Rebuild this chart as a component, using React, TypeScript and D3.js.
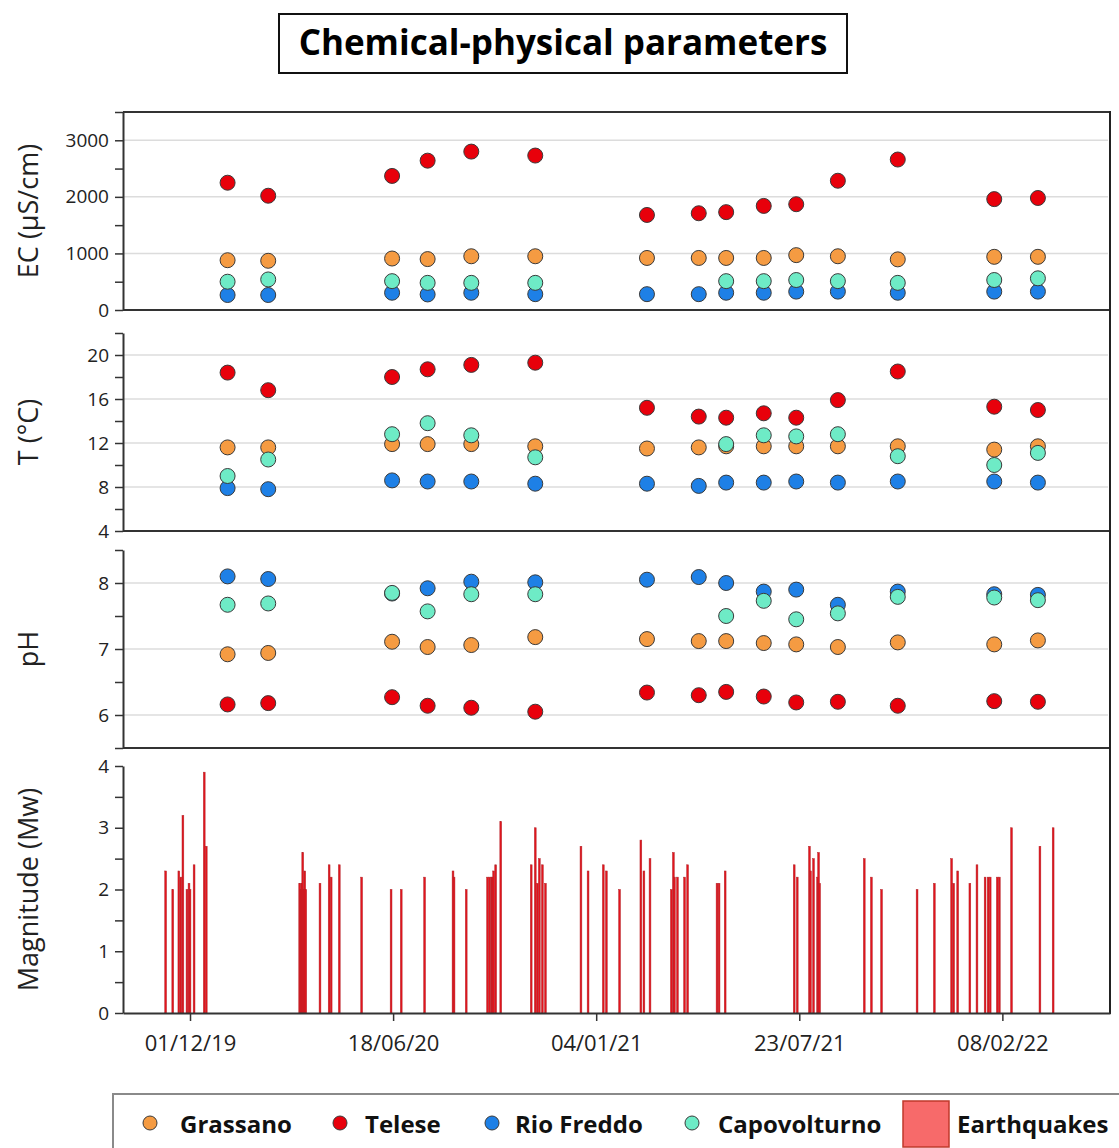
import React, { useEffect, useRef } from "react";
import * as d3 from "d3";

// ---------- DATA ----------
const sampleDates = [
  "2020-01-07", "2020-02-16", "2020-06-17", "2020-07-22", "2020-09-03", "2020-11-05",
  "2021-02-23", "2021-04-15", "2021-05-12", "2021-06-18", "2021-07-20", "2021-08-30",
  "2021-10-28", "2022-01-31", "2022-03-15",
];

const seriesNames = ["Grassano", "Telese", "Rio Freddo", "Capovolturno"];

// EC (µS/cm)
const ecGrassano = [880, 870, 910, 900, 950, 950, 920, 920, 920, 920, 970, 950, 895, 940, 940];
const ecTelese = [2250, 2020, 2370, 2640, 2800, 2730, 1680, 1710, 1730, 1840, 1870, 2285, 2660, 1960, 1980];
const ecRioFreddo = [265, 265, 305, 275, 305, 280, 280, 280, 305, 305, 325, 325, 305, 325, 325];
const ecCapovolturno = [500, 540, 510, 480, 480, 480, null, null, 510, 510, 530, 510, 480, 530, 560];

// T (°C)
const tGrassano = [11.6, 11.6, 11.9, 11.9, 11.9, 11.7, 11.5, 11.6, 11.7, 11.7, 11.7, 11.7, 11.7, 11.4, 11.7];
const tTelese = [18.4, 16.8, 18.0, 18.7, 19.1, 19.3, 15.2, 14.4, 14.3, 14.7, 14.3, 15.9, 18.5, 15.3, 15.0];
const tRioFreddo = [7.9, 7.8, 8.6, 8.5, 8.5, 8.3, 8.3, 8.1, 8.4, 8.4, 8.5, 8.4, 8.5, 8.5, 8.4];
const tCapovolturno = [9.0, 10.5, 12.8, 13.8, 12.7, 10.7, null, null, 11.9, 12.7, 12.6, 12.8, 10.8, 10.0, 11.1];

// pH
const phGrassano = [6.92, 6.94, 7.11, 7.03, 7.06, 7.18, 7.15, 7.12, 7.12, 7.09, 7.07, 7.03, 7.1, 7.07, 7.13];
const phTelese = [6.16, 6.18, 6.27, 6.14, 6.11, 6.05, 6.34, 6.3, 6.35, 6.28, 6.19, 6.2, 6.14, 6.21, 6.2];
const phRioFreddo = [8.1, 8.06, 7.84, 7.92, 8.02, 8.01, 8.05, 8.09, 8.0, 7.87, 7.9, 7.67, 7.87, 7.83, 7.82];
const phCapovolturno = [7.67, 7.69, 7.85, 7.57, 7.83, 7.83, null, null, 7.5, 7.73, 7.45, 7.54, 7.79, 7.78, 7.74];

// Earthquakes
const eqDates = [
  "2019-11-07", "2019-11-14", "2019-11-20", "2019-11-22", "2019-11-24", "2019-11-28", "2019-11-30",
  "2019-12-01", "2019-12-05", "2019-12-15", "2019-12-17",
  "2020-03-18", "2020-03-19", "2020-03-20", "2020-03-21", "2020-03-22", "2020-03-23", "2020-03-24",
  "2020-04-07", "2020-04-16", "2020-04-18", "2020-04-26", "2020-05-18", "2020-06-16", "2020-06-26",
  "2020-07-19", "2020-08-16", "2020-08-17", "2020-08-29",
  "2020-09-19", "2020-09-21", "2020-09-23", "2020-09-24", "2020-09-25", "2020-09-27", "2020-10-02",
  "2020-11-01", "2020-11-05", "2020-11-07", "2020-11-09", "2020-11-12", "2020-11-15",
  "2020-12-20", "2020-12-27", "2021-01-11", "2021-01-14", "2021-01-27",
  "2021-02-17", "2021-02-20", "2021-02-26", "2021-03-19", "2021-03-21", "2021-03-22", "2021-03-25",
  "2021-04-01", "2021-04-04", "2021-05-03", "2021-05-05", "2021-05-11",
  "2021-07-18", "2021-07-21", "2021-08-02", "2021-08-03", "2021-08-06", "2021-08-10", "2021-08-11", "2021-08-12",
  "2021-09-25", "2021-10-02", "2021-10-12", "2021-11-16",
  "2021-12-03", "2021-12-20", "2021-12-22", "2021-12-26",
  "2022-01-07", "2022-01-14", "2022-01-22", "2022-01-25", "2022-01-27", "2022-02-03", "2022-02-05",
  "2022-02-17", "2022-03-17", "2022-03-30",
];
const eqMagnitudes = [
  2.3, 2.0, 2.3, 2.2, 3.2, 2.0, 2.1,
  2.0, 2.4, 3.9, 2.7,
  2.1, 2.0, 2.1, 2.6, 2.0, 2.3, 2.0,
  2.1, 2.4, 2.2, 2.4, 2.2, 2.0, 2.0,
  2.2, 2.3, 2.2, 2.0,
  2.2, 2.2, 2.2, 2.2, 2.3, 2.4, 3.1,
  2.4, 3.0, 2.1, 2.5, 2.4, 2.1,
  2.7, 2.3, 2.4, 2.3, 2.0,
  2.8, 2.3, 2.5, 2.0, 2.6, 2.2, 2.2,
  2.2, 2.4, 2.1, 2.1, 2.3,
  2.4, 2.2, 2.7, 2.3, 2.5, 2.2, 2.6, 2.1,
  2.5, 2.2, 2.0, 2.0,
  2.1, 2.5, 2.1, 2.3,
  2.1, 2.4, 2.2, 2.2, 2.2, 2.2, 2.2,
  3.0, 2.7, 3.0,
];

const xTickDates = ["2019-12-01", "2020-06-18", "2021-01-04", "2021-07-23", "2022-02-08"];
const xDomain = ["2019-09-26", "2022-05-25"];

const title = "Chemical-physical parameters";
const eqLabel = "Earthquakes";

// ---------- STYLE ----------
const COLORS = ["#F59B42", "#E8000B", "#1E80E6", "#6EEBC6"];
const FONT = "'Open Sans', 'DejaVu Sans', sans-serif";

export default function App() {
  const ref = useRef<SVGSVGElement | null>(null);

  useEffect(() => {
    const svg = d3.select(ref.current);
    svg.selectAll("*").remove();

    const left = 123;
    const right = 1110;
    const parse = d3.utcParse("%Y-%m-%d");
    const x = d3.scaleUtc().domain(xDomain.map((d) => parse(d) as Date)).range([left, right]);

    const panels = [
      { label: "EC (\u00b5S/cm)", top: 112, bottom: 310, domain: [0, 3500], step: 500, major: 1000,
        data: [ecGrassano, ecTelese, ecRioFreddo, ecCapovolturno] },
      { label: "T (\u00b0C)", top: 333, bottom: 531, domain: [4, 22], step: 2, major: 4,
        data: [tGrassano, tTelese, tRioFreddo, tCapovolturno] },
      { label: "pH", top: 550, bottom: 748, domain: [5.5, 8.5], step: 0.5, major: 1,
        data: [phGrassano, phTelese, phRioFreddo, phCapovolturno] },
    ];

    const styleAxis = (ag: any, fs: number) => {
      ag.select(".domain").attr("stroke", "#333").attr("stroke-width", 2);
      ag.selectAll(".tick line").attr("stroke", "#333").attr("stroke-width", 1.5);
      ag.selectAll(".tick text").attr("font-family", FONT).attr("font-size", fs).attr("fill", "#222");
    };

    panels.forEach((p) => {
      const y = d3.scaleLinear().domain(p.domain).range([p.bottom, p.top]);
      const g = svg.append("g");
      const tickVals = d3.range(p.domain[0], p.domain[1] + 1e-9, p.step);
      const majors = tickVals.filter((v) => Math.abs(v / p.major - Math.round(v / p.major)) < 1e-6);
      g.selectAll("line.grid")
        .data(majors.filter((v) => v !== p.domain[0]))
        .join("line")
        .attr("x1", left + 1)
        .attr("x2", right - 2)
        .attr("y1", (d) => y(d))
        .attr("y2", (d) => y(d))
        .attr("stroke", "#dcdcdc")
        .attr("stroke-width", 1.5);
      g.append("line")
        .attr("x1", left).attr("x2", right)
        .attr("y1", p.bottom).attr("y2", p.bottom)
        .attr("stroke", "#333").attr("stroke-width", 2.2);
      const axis = d3.axisLeft(y)
        .tickValues(tickVals)
        .tickSize(8)
        .tickSizeOuter(0)
        .tickPadding(6)
        .tickFormat((d: any) => (majors.includes(d) ? d3.format("d")(d) : ""));
      const ag = g.append("g").attr("transform", `translate(${left},0)`).call(axis);
      styleAxis(ag, 19);
      g.append("text")
        .attr("transform", `translate(31,${(p.top + p.bottom) / 2}) rotate(-90)`)
        .attr("text-anchor", "middle")
        .attr("dominant-baseline", "middle")
        .attr("font-family", FONT)
        .attr("font-size", 27)
        .attr("fill", "#222")
        .text(p.label);
      p.data.forEach((vals, si) => {
        g.append("g")
          .selectAll("circle")
          .data(vals.map((v, i) => ({ v, d: parse(sampleDates[i]) as Date })).filter((o) => o.v !== null))
          .join("circle")
          .attr("cx", (o: any) => x(o.d))
          .attr("cy", (o: any) => y(o.v))
          .attr("r", 7.5)
          .attr("fill", COLORS[si])
          .attr("stroke", "#3a3a3a")
          .attr("stroke-width", 1);
      });
    });

    svg.append("line").attr("x1", left).attr("x2", right).attr("y1", 112).attr("y2", 112)
      .attr("stroke", "#333").attr("stroke-width", 2);
    svg.append("line").attr("x1", right).attr("x2", right).attr("y1", 111).attr("y2", 1014)
      .attr("stroke", "#222").attr("stroke-width", 2);

    // earthquake panel
    const ym = d3.scaleLinear().domain([0, 4]).range([1013, 766]);
    const gm = svg.append("g");
    gm.selectAll("rect")
      .data(eqDates.map((d, i) => ({ d: parse(d) as Date, m: eqMagnitudes[i] })))
      .join("rect")
      .attr("x", (o) => x(o.d) - 0.9)
      .attr("width", 1.8)
      .attr("y", (o) => ym(o.m))
      .attr("height", (o) => ym(0) - ym(o.m))
      .attr("fill", "#E3141C")
      .attr("stroke", "#B3262C")
      .attr("stroke-width", 0.5);
    const am = d3.axisLeft(ym)
      .tickValues(d3.range(0, 4.01, 0.5))
      .tickSize(8)
      .tickSizeOuter(0)
      .tickPadding(6)
      .tickFormat((d: any) => (Number.isInteger(d) ? String(d) : ""));
    const amg = gm.append("g").attr("transform", `translate(${left},0)`).call(am);
    styleAxis(amg, 19);
    gm.append("text")
      .attr("transform", `translate(31,${(766 + 1013) / 2}) rotate(-90)`)
      .attr("text-anchor", "middle")
      .attr("dominant-baseline", "middle")
      .attr("font-family", FONT)
      .attr("font-size", 27)
      .attr("fill", "#222")
      .text("Magnitude (Mw)");
    const ax = d3.axisBottom(x)
      .tickValues(xTickDates.map((d) => parse(d) as Date))
      .tickSize(8)
      .tickSizeOuter(0)
      .tickPadding(14)
      .tickFormat(d3.utcFormat("%d/%m/%y") as any);
    const axg = gm.append("g").attr("transform", `translate(0,1013)`).call(ax);
    styleAxis(axg, 22);

    // title
    svg.append("rect").attr("x", 279).attr("y", 14).attr("width", 568).attr("height", 59)
      .attr("fill", "#fff").attr("stroke", "#111").attr("stroke-width", 2);
    svg.append("text").attr("x", 563).attr("y", 41).attr("text-anchor", "middle")
      .attr("dominant-baseline", "central")
      .attr("font-family", FONT).attr("font-weight", 700).attr("font-size", 35).attr("fill", "#000")
      .text(title);

    // legend
    svg.append("rect").attr("x", 113).attr("y", 1094).attr("width", 1020).attr("height", 70)
      .attr("fill", "#fff").attr("stroke", "#8a8a8a").attr("stroke-width", 2);
    const legendX = [150, 340, 492, 692];
    const legendTextX = [180, 365, 515, 718];
    seriesNames.forEach((n, i) => {
      svg.append("circle").attr("cx", legendX[i]).attr("cy", 1123).attr("r", 7)
        .attr("fill", COLORS[i]).attr("stroke", "#3a3a3a").attr("stroke-width", 1);
      svg.append("text").attr("x", legendTextX[i]).attr("y", 1123).attr("dominant-baseline", "central")
        .attr("font-family", FONT).attr("font-weight", 700).attr("font-size", 24).attr("fill", "#111")
        .text(n);
    });
    svg.append("rect").attr("x", 903).attr("y", 1101).attr("width", 46).attr("height", 46)
      .attr("fill", "#F76A6A").attr("stroke", "#C0392B").attr("stroke-width", 1.5);
    svg.append("text").attr("x", 957).attr("y", 1123).attr("dominant-baseline", "central")
      .attr("font-family", FONT).attr("font-weight", 700).attr("font-size", 24).attr("fill", "#111")
      .text(eqLabel);
  }, []);

  return (
    <svg
      ref={ref}
      width={1119}
      height={1148}
      style={{ position: "absolute", left: 0, top: 0, background: "#fff" }}
    />
  );
}
